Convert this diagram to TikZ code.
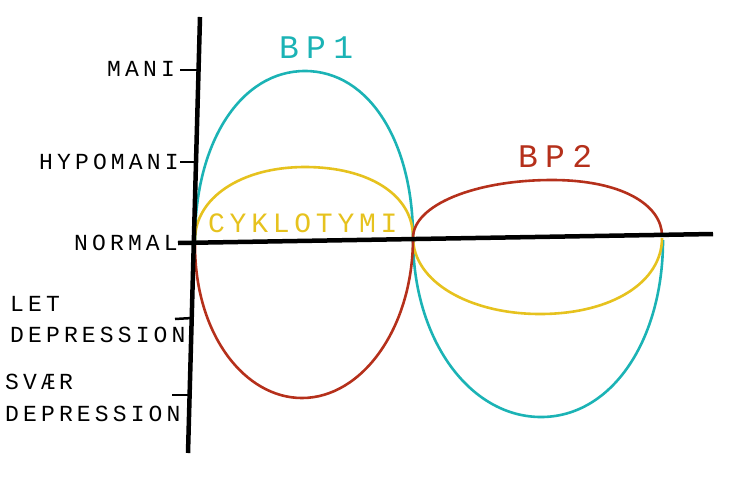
\documentclass[tikz,border=0pt]{standalone}
\usepackage{fontspec}
\newfontfamily\lblfont[LetterSpace=18]{Liberation Mono}
\newfontfamily\midfont[LetterSpace=17]{Liberation Mono}
\newfontfamily\bigfont[LetterSpace=22]{Liberation Mono}
\definecolor{bpcyan}{HTML}{1BB3B5}
\definecolor{bpyellow}{HTML}{E6C21E}
\definecolor{bpred}{HTML}{B5301B}
\tikzset{
  axisline/.style={line width=4.5pt, black},
  tickline/.style={line width=2.5pt, black},
  curve/.style={line width=2.6pt},
  lbl/.style={inner sep=0pt, anchor=base west, font=\lblfont\fontsize{23}{23}\selectfont},
  bigl/.style={inner sep=0pt, anchor=base west, font=\bigfont\fontsize{33}{33}\selectfont},
  midl/.style={inner sep=0pt, anchor=base west, font=\midfont\fontsize{28}{28}\selectfont},
}
\begin{document}
\begin{tikzpicture}[x=1pt,y=-1pt]
\useasboundingbox (0,0) rectangle (735,480);
% axes
\coordinate (vtop) at (200,17);
\coordinate (vbot) at (188,453);
\coordinate (hleft) at (178,243);
\coordinate (hright) at (713,234);
% curves
\draw[curve, bpcyan] (195,240) .. controls (195,142) and (241,71) .. (305,71)
  .. controls (369,71) and (413,142) .. (413,238)
  .. controls (413,340) and (470,417) .. (541,417)
  .. controls (612,417) and (663,340) .. (663,240);
\draw[curve, bpyellow] (195,240) .. controls (195,198) and (241,167) .. (305,167)
  .. controls (369,167) and (413,195) .. (413,237)
  .. controls (413,282) and (470,314) .. (540,314)
  .. controls (612,314) and (662,282) .. (662,238);
\draw[curve, bpred] (195,245) .. controls (195,335) and (245,398) .. (302,398)
  .. controls (362,398) and (413,328) .. (413,238)
  .. controls (413,205) and (475,180) .. (552,180)
  .. controls (622,180) and (662,205) .. (662,236);
\draw[axisline] (vtop) -- (vbot);
\draw[axisline] (hleft) -- (hright);
% tick coordinates
\coordinate (t1a) at (180,70);  \coordinate (t1b) at (199,70);
\coordinate (t2a) at (180,162); \coordinate (t2b) at (196,162);
\coordinate (t4a) at (175,319); \coordinate (t4b) at (192,318);
\coordinate (t5a) at (172,395); \coordinate (t5b) at (189,395);
\draw[tickline] (t1a) -- (t1b);
\draw[tickline] (t2a) -- (t2b);
\draw[tickline] (t4a) -- (t4b);
\draw[tickline] (t5a) -- (t5b);
% labels
\node[lbl] (mani) at (107,76) {MANI};
\node[lbl] (hypo) at (39,169) {HYPOMANI};
\node[lbl] (norm) at (74,250) {NORMAL};
\node[lbl] (let) at (10,311) {LET};
\node[lbl] (dep1) at (10,342) {DEPRESSION};
\node[lbl] (svaer) at (5,389) {SVÆR};
\node[lbl] (dep2) at (5,421) {DEPRESSION};
\node[bigl, text=bpcyan] (bp1) at (279,58) {BP1};
\node[bigl, text=bpred] (bp2) at (518,167) {BP2};
\node[midl, text=bpyellow] (cyk) at (208,232) {CYKLOTYMI};
\end{tikzpicture}
\end{document}
